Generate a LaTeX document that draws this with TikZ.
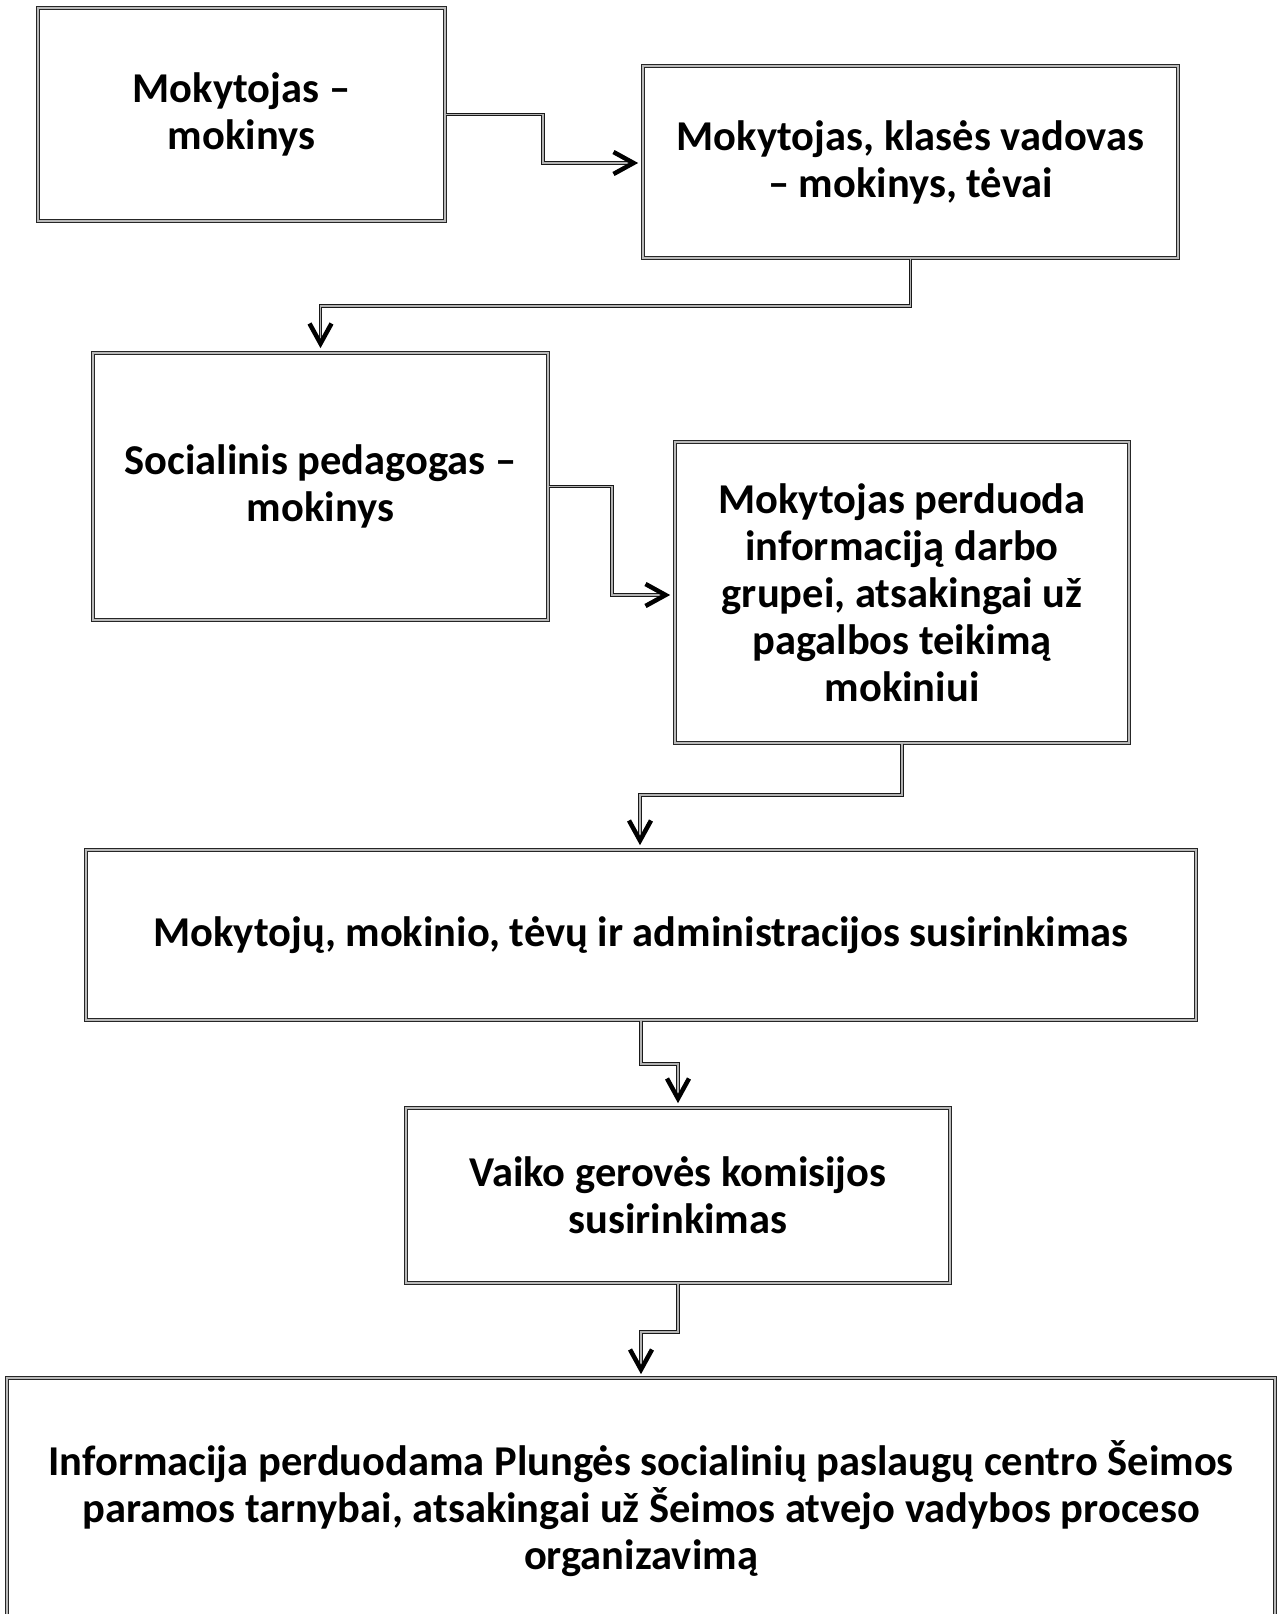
\documentclass[tikz,border=0pt]{standalone}
\usepackage{fontspec}
\setmainfont{Carlito}
\usetikzlibrary{calc}
\tikzset{
  box/.style={draw=black!85, line width=1pt, double=gray!55, double distance=1.3pt,
    fill=white, align=center, inner sep=0pt,
    font=\bfseries\fontsize{42.5}{47}\selectfont},
  conn/.style={draw=black!90, line width=1.1pt, double=gray!60, double distance=1.1pt, line join=miter},
  tipv/.style={draw=black, line width=4.5pt, line join=miter, line cap=butt}
}
\newcommand\downhead[1]{\draw[tipv] ($(#1)+(-11,-20)$) -- (#1) -- ($(#1)+(11,-20)$);}
\newcommand\righthead[1]{\draw[tipv] ($(#1)+(-20,-11)$) -- (#1) -- ($(#1)+(-20,11)$);}
\begin{document}
\begin{tikzpicture}[x=1pt,y=-1pt]
\useasboundingbox (0,0) rectangle (1280,1614);
\clip (0,0) rectangle (1280,1614);
\fill[white] (0,0) rectangle (1280,1614);

\node[box, minimum width=407pt, minimum height=213pt] (b1) at (241.5,114.5) {Mokytojas –\\mokinys};
\node[box, minimum width=535pt, minimum height=192pt] (b2) at (910.5,162) {Mokytojas, klasės vadovas\\– mokinys, tėvai};
\node[box, minimum width=455pt, minimum height=267pt] (b3) at (320.5,486.5) {Socialinis pedagogas –\\mokinys};
\node[box, minimum width=454pt, minimum height=301pt] (b4) at (902,592.5) {Mokytojas perduoda\\informaciją darbo\\grupei, atsakingai už\\pagalbos teikimą\\mokiniui};
\node[box, minimum width=1110pt, minimum height=170pt] (b5) at (641,935) {Mokytojų, mokinio, tėvų ir administracijos susirinkimas};
\node[box, minimum width=544pt, minimum height=175pt] (b6) at (678,1195.5) {Vaiko gerovės komisijos\\susirinkimas};
\node[box, minimum width=1268pt, minimum height=262pt] (b7) at (641,1509) {Informacija perduodama Plungės socialinių paslaugų centro Šeimos\\paramos tarnybai, atsakingai už Šeimos atvejo vadybos proceso\\organizavimą};

% tip coordinates
\coordinate (t1) at ($(b2.west |- 0,163)+(-9,0)$);
\coordinate (t2) at ($(b3.north)+(0,-9)$);
\coordinate (t3) at ($(b4.west |- 0,595)+(-9,0)$);
\coordinate (t4) at ($(b5.north -| 640,0)+(0,-9)$);
\coordinate (t5) at ($(b6.north)+(0,-9)$);
\coordinate (t6) at ($(b7.north)+(0,-8)$);

\draw[conn] (b1.east) -| (543,163) -- ($(t1)+(-4,0)$);
\righthead{t1}
\draw[conn] (b2.south) -- (910.5,306) -| ($(t2)+(0,-4)$);
\downhead{t2}
\draw[conn] (b3.east) -| (612,595) -- ($(t3)+(-4,0)$);
\righthead{t3}
\draw[conn] (b4.south) -- (902,795) -| ($(t4)+(0,-4)$);
\downhead{t4}
\draw[conn] (b5.south) -- (641,1064) -| ($(t5)+(0,-4)$);
\downhead{t5}
\draw[conn] (b6.south) -- (678,1332) -| ($(t6)+(0,-4)$);
\downhead{t6}
\end{tikzpicture}
\end{document}
